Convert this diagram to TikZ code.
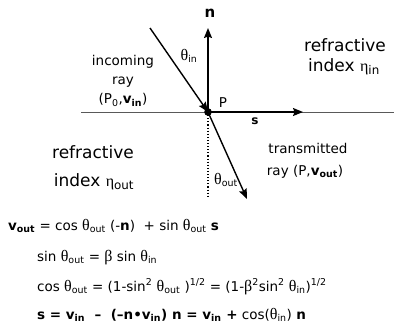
\documentclass[tikz,border=0pt]{standalone}
\usepackage{fontspec}
\setmainfont{DejaVu Sans}
\newfontfamily\grk{Liberation Serif}
\usetikzlibrary{arrows.meta}
\newcommand{\gth}{{\grk\fontsize{16}{17}\selectfont θ}}
\newcommand{\geta}{{\grk\fontsize{16}{18}\selectfont η}}
\newcommand{\gbeta}{{\grk\fontsize{16}{17}\selectfont β}}
\newcommand{\sbs}[1]{\textsubscript{#1}}
\newcommand{\sps}[1]{\textsuperscript{#1}}
\tikzset{
  lbl/.style={inner sep=0pt, font=\fontsize{13.5}{15}\selectfont},
  big/.style={inner sep=0pt, font=\fontsize{17}{19}\selectfont},
  eq/.style={inner sep=0pt, anchor=base west, font=\fontsize{13.5}{15}\selectfont},
  ray/.style={line width=1.4pt},
  tip/.style={-{Stealth[length=10pt,width=8pt,inset=1.5pt]}},
}
\begin{document}
\begin{tikzpicture}[x=1pt,y=-1pt]
\useasboundingbox (0,0) rectangle (394,327);
\coordinate (P) at (208,112);
\coordinate (L) at (81,112);
\coordinate (R) at (394,112);
\coordinate (N) at (208,28);
\coordinate (S) at (303,112);
\coordinate (I) at (150,28);
\coordinate (T) at (247,199);
\coordinate (D) at (208,196);
\draw[gray!70!black, line width=0.8pt] (L) -- (R);
\draw[ray, tip] (P) -- (N);
\draw[ray, tip] (P) -- (S);
\draw[ray, tip] (I) -- (P);
\draw[ray, tip] (P) -- (T);
\draw[line width=1.1pt, dotted] (P) -- (D);
\fill (P) circle (3.8);
\node[lbl, font=\fontsize{15}{17}\selectfont\bfseries] (nl) at (210,13) {n};
\node[lbl] (pl) at (223,103) {P};
\node[lbl, font=\fontsize{12}{14}\selectfont\bfseries] (sl) at (255,121) {s};
\node[lbl] (thin) at (189,56) {\gth\sbs{in}};
\node[lbl] (thout) at (226,180) {\gth\sbs{out}};
\node[lbl] (inc1) at (123,62) {incoming};
\node[lbl] (inc2) at (123,82) {ray};
\node[lbl] (inc3) at (123,100) {(P\sbs{0},\textbf{v}\sbs{\textbf{in}})};
\node[big] (ri1) at (345,45) {refractive};
\node[big] (ri2) at (344,67) {index \geta\sbs{in}};
\node[big] (ro1) at (93,152) {refractive};
\node[big] (ro2) at (94,182) {index \geta\sbs{out}};
\node[lbl] (tr1) at (308,148) {transmitted};
\node[lbl] (tr2) at (305,172) {ray (P,\textbf{v}\sbs{\textbf{out}})};
\node[eq] (e1) at (8,230) {\textbf{v}\sbs{\textbf{out}} = cos \gth\sbs{out} (-\textbf{n})\ \ + sin \gth\sbs{out} \textbf{s}};
\node[eq] (e2) at (37,261) {sin \gth\sbs{out} = \gbeta\ sin \gth\sbs{in}};
\node[eq] (e3) at (37,291) {cos \gth\sbs{out} = (1-sin\sps{2} \gth\sbs{out} )\sps{1/2} = (1-\gbeta\sps{2}sin\sps{2} \gth\sbs{in})\sps{1/2}};
\node[eq] (e4) at (37,319) {\textbf{s = v\sbs{in}\ \ --\ \ (--n•v\sbs{in}) n = v\sbs{in} +} cos(\gth\sbs{in}) \textbf{n}};
\end{tikzpicture}
\end{document}
